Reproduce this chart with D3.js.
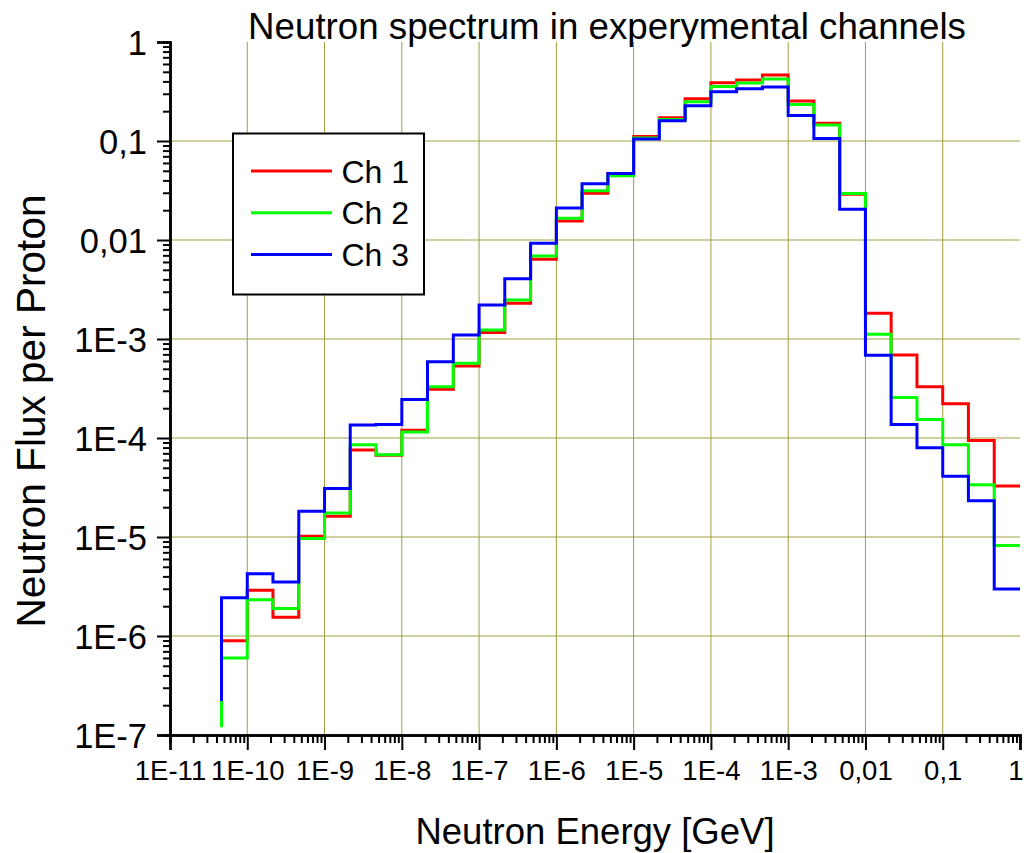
<!DOCTYPE html>
<html>
<head>
<meta charset="utf-8">
<script src="https://cdn.jsdelivr.net/npm/d3@7"></script>
<style>
html, body { margin: 0; padding: 0; background: #fff; }
svg { display: block; font-family: "Liberation Sans", Arial, sans-serif; }
</style>
</head>
<body>
<svg id="chart" width="1024" height="853"></svg>
<script>
// ---- Data ----
const binEdges = [4.64e-11, 1e-10, 2.15e-10, 4.64e-10, 1e-9, 2.15e-9, 4.64e-9, 1e-8, 2.15e-8, 4.64e-8,
  1e-7, 2.15e-7, 4.64e-7, 1e-6, 2.15e-6, 4.64e-6, 1e-5, 2.15e-5, 4.64e-5, 1e-4,
  2.15e-4, 4.64e-4, 1e-3, 2.15e-3, 4.64e-3, 0.01, 0.0215, 0.0464, 0.1, 0.215, 0.464, 1];

const seriesNames = ["Ch 1", "Ch 2", "Ch 3"];
const seriesColors = ["#ff0000", "#00ff00", "#0000ff"];
const startValues = [1.5e-7, 1.2e-7, 2.2e-7];

const ch1 = [8.98e-7, 2.9e-6, 1.55e-6, 1.02e-5, 1.62e-5, 7.58e-5, 6.7e-5, 1.2e-4, 3.1e-4, 5.33e-4,
  1.16e-3, 2.3e-3, 6.4e-3, 1.56e-2, 2.97e-2, 4.7e-2, 0.111, 0.172, 0.267, 0.388,
  0.413, 0.464, 0.253, 0.151, 0.029, 1.82e-3, 6.89e-4, 3.3e-4, 2.22e-4, 9.46e-5, 3.27e-5];
const ch2 = [6.0e-7, 2.33e-6, 1.9e-6, 9.66e-6, 1.75e-5, 8.55e-5, 6.77e-5, 1.15e-4, 3.3e-4, 5.68e-4,
  1.23e-3, 2.48e-3, 6.9e-3, 1.66e-2, 3.14e-2, 4.45e-2, 0.107, 0.165, 0.249, 0.356,
  0.385, 0.423, 0.234, 0.145, 0.0295, 1.12e-3, 2.57e-4, 1.54e-4, 8.55e-5, 3.37e-5, 8.2e-6];
const ch3 = [2.43e-6, 4.25e-6, 3.52e-6, 1.82e-5, 3.09e-5, 1.35e-4, 1.37e-4, 2.45e-4, 5.9e-4, 1.1e-3,
  2.21e-3, 4.07e-3, 9.28e-3, 2.11e-2, 3.69e-2, 4.7e-2, 0.1045, 0.16, 0.227, 0.315,
  0.337, 0.351, 0.181, 0.106, 0.0205, 6.84e-4, 1.37e-4, 7.98e-5, 4.12e-5, 2.32e-5, 2.99e-6];

const xTickValues = [1e-11, 1e-10, 1e-9, 1e-8, 1e-7, 1e-6, 1e-5, 1e-4, 1e-3, 0.01, 0.1, 1];
const xTickLabels = ["1E-11", "1E-10", "1E-9", "1E-8", "1E-7", "1E-6", "1E-5", "1E-4", "1E-3", "0,01", "0,1", "1"];
const yTickValues = [1e-7, 1e-6, 1e-5, 1e-4, 1e-3, 0.01, 0.1, 1];
const yTickLabels = ["1E-7", "1E-6", "1E-5", "1E-4", "1E-3", "0,01", "0,1", "1"];

const titleText = "Neutron spectrum in experymental channels";
const xTitle = "Neutron Energy [GeV]";
const yTitle = "Neutron Flux per Proton";

// ---- Layout ----
const svg = d3.select("#chart");
const x = d3.scaleLog().domain([1e-11, 1]).range([170, 1020]);
const y = d3.scaleLog().domain([1e-7, 1]).range([735, 42]);

// minor ticks
const minorX = [];
xTickValues.slice(0, -1).forEach(v => { for (let k = 2; k <= 9; k++) minorX.push(v * k); });
const minorY = [];
yTickValues.slice(0, -1).forEach(v => { for (let k = 2; k <= 9; k++) minorY.push(v * k); });

// grid
const gridColor = "#a0a040";
svg.append("g").selectAll("line").data(xTickValues.slice(1, -1)).join("line")
  .attr("x1", d => x(d)).attr("x2", d => x(d))
  .attr("y1", y(1)).attr("y2", y(1e-7))
  .attr("stroke", gridColor).attr("stroke-width", 1);
svg.append("g").selectAll("line").data(yTickValues.slice(1, -1)).join("line")
  .attr("x1", x(1e-11)).attr("x2", x(1))
  .attr("y1", d => y(d)).attr("y2", d => y(d))
  .attr("stroke", gridColor).attr("stroke-width", 1);

// series
const allSeries = [ch1, ch2, ch3];
const line = d3.line().x(d => x(d[0])).y(d => y(d[1])).curve(d3.curveStepAfter);
allSeries.forEach((vals, si) => {
  const pts = [[binEdges[0], startValues[si]]];
  vals.forEach((v, i) => pts.push([binEdges[i], v]));
  pts.push([binEdges[binEdges.length - 1], vals[vals.length - 1]]);
  svg.append("path").datum(pts)
    .attr("d", line)
    .attr("fill", "none")
    .attr("stroke", seriesColors[si])
    .attr("stroke-width", 3)
    .attr("stroke-linejoin", "miter");
});

// axes
const xAxisMajor = d3.axisBottom(x).tickValues(xTickValues).tickSize(15).tickPadding(10)
  .tickFormat((d, i) => xTickLabels[i]);
const xAxisMinor = d3.axisBottom(x).tickValues(minorX).tickSize(8).tickFormat("");
const yAxisMajor = d3.axisLeft(y).tickValues(yTickValues).tickSize(13).tickPadding(10)
  .tickFormat((d, i) => yTickLabels[i]);
const yAxisMinor = d3.axisLeft(y).tickValues(minorY).tickSize(7).tickFormat("");

const gx = svg.append("g").attr("transform", `translate(0,${y(1e-7)})`);
gx.call(xAxisMinor);
gx.append("g").call(xAxisMajor);
const gy = svg.append("g").attr("transform", `translate(${x(1e-11)},0)`);
gy.call(yAxisMinor);
gy.append("g").call(yAxisMajor);

svg.selectAll(".domain").attr("stroke", "#000").attr("stroke-width", 2.5);
svg.selectAll(".tick line").attr("stroke", "#000").attr("stroke-width", 2);
gx.selectAll(".tick text").attr("font-size", 27.5).attr("fill", "#000")
  .attr("font-family", "'Liberation Sans', Arial, sans-serif");
// keep the last label ("1") inside the picture edge
gx.selectAll(".tick text").filter(d => d === 1).attr("text-anchor", "end").attr("x", 3);
gy.selectAll(".tick text").attr("font-size", 34.5).attr("fill", "#000")
  .attr("font-family", "'Liberation Sans', Arial, sans-serif").attr("dy", "0.35em");

// titles
svg.append("text").attr("x", 607).attr("y", 39).attr("text-anchor", "middle")
  .attr("font-size", 36.7).attr("fill", "#000").text(titleText);
svg.append("text").attr("x", 595).attr("y", 844).attr("text-anchor", "middle")
  .attr("font-size", 36.5).attr("fill", "#000").text(xTitle);
svg.append("text").attr("transform", "translate(45,411) rotate(-90)").attr("text-anchor", "middle")
  .attr("font-size", 40.6).attr("fill", "#000").text(yTitle);

// legend
const lg = svg.append("g");
lg.append("rect").attr("x", 233).attr("y", 133.5).attr("width", 191).attr("height", 161)
  .attr("fill", "#fff").attr("stroke", "#000").attr("stroke-width", 2);
seriesNames.forEach((name, i) => {
  const ly = 171 + i * 41.7;
  lg.append("line").attr("x1", 251).attr("x2", 332).attr("y1", ly).attr("y2", ly)
    .attr("stroke", seriesColors[i]).attr("stroke-width", 3);
  lg.append("text").attr("x", 341.5).attr("y", ly + 11.5).attr("font-size", 32).attr("fill", "#000").text(name);
});
</script>
</body>
</html>
